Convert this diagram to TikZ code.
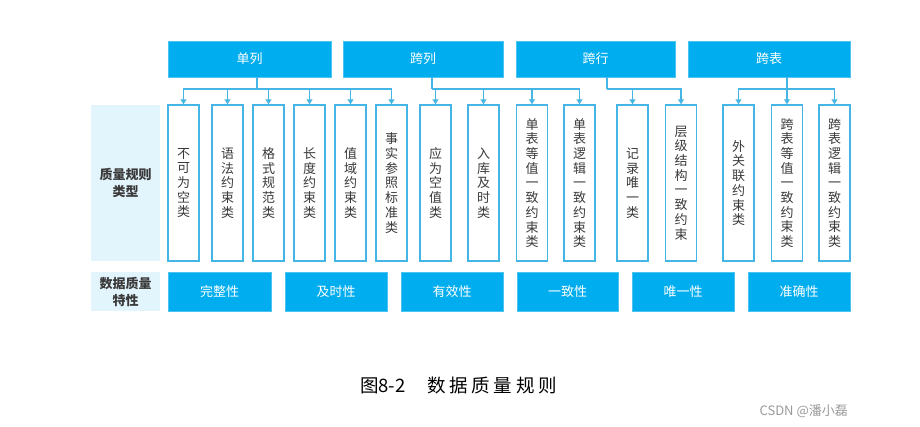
\documentclass[tikz,border=0pt]{standalone}
\usepackage{fontspec}
\setmainfont{Noto Sans CJK SC}
\usetikzlibrary{arrows.meta}
\definecolor{topblue}{HTML}{00ADEF}
\definecolor{topedge}{HTML}{4CC3F1}
\definecolor{lineblue}{HTML}{45B5E5}
\definecolor{txtgray}{HTML}{3A3A3A}
\definecolor{lblfill}{HTML}{E2F4FC}
\definecolor{wmgray}{HTML}{9A9A9A}
\tikzset{
  topbox/.style={draw=topedge, line width=0.8pt, fill=topblue, text=white, inner sep=0pt,
    minimum width=#1, minimum height=36pt, font=\fontsize{13}{15}\selectfont},
  botbox/.style={draw=topedge, line width=0.8pt, fill=topblue, text=white, inner sep=0pt,
    minimum width=#1, minimum height=39pt, font=\fontsize{13}{15}\selectfont},
  vbox/.style={draw=lineblue, line width=1.5pt, fill=white, text=txtgray, inner sep=0pt,
    minimum width=31pt, minimum height=156pt, align=center, font=\fontsize{13}{14.7}\selectfont},
  lbl/.style={fill=lblfill, text=txtgray, inner sep=0pt, minimum width=69pt, align=center,
    font=\fontsize{13}{17}\selectfont\bfseries},
  conn/.style={draw=lineblue, line width=1.2pt},
  arr/.style={conn, -{Triangle[width=6pt,length=5pt]}}
}
\begin{document}
\begin{tikzpicture}[x=1pt,y=-1pt]
\useasboundingbox (0,0) rectangle (920,426);
% top boxes
\node[topbox=163pt] (t1) at (249.5,59) {单列};
\node[topbox=160pt] (t2) at (423,59) {跨列};
\node[topbox=159pt] (t3) at (595.5,59) {跨行};
\node[topbox=162pt] (t4) at (769,59) {跨表};
% labels
\node[lbl, minimum height=156pt] (l1) at (125.5,183) {质量规则\\类型};
\node[lbl, minimum height=39pt] (l2) at (125.5,291.5) {数据质量\\特性};
% vertical boxes
\node[vbox] (v1) at (183.5,183) {不\\可\\为\\空\\类};
\node[vbox] (v2) at (227.5,183) {语\\法\\约\\束\\类};
\node[vbox] (v3) at (268.5,183) {格\\式\\规\\范\\类};
\node[vbox] (v4) at (309.5,183) {长\\度\\约\\束\\类};
\node[vbox] (v5) at (350.5,183) {值\\域\\约\\束\\类};
\node[vbox] (v6) at (391.5,183) {事\\实\\参\\照\\标\\准\\类};
\node[vbox] (v7) at (435.5,183) {应\\为\\空\\值\\类};
\node[vbox] (v8) at (483.5,183) {入\\库\\及\\时\\类};
\node[vbox] (v9) at (532,183) {单\\表\\等\\值\\一\\致\\约\\束\\类};
\node[vbox] (v10) at (579.5,183) {单\\表\\逻\\辑\\一\\致\\约\\束\\类};
\node[vbox] (v11) at (632.5,183) {记\\录\\唯\\一\\类};
\node[vbox] (v12) at (681,183) {层\\级\\结\\构\\一\\致\\约\\束};
\node[vbox] (v13) at (738.5,183) {外\\关\\联\\约\\束\\类};
\node[vbox] (v14) at (787,183) {跨\\表\\等\\值\\一\\致\\约\\束\\类};
\node[vbox] (v15) at (834.5,183) {跨\\表\\逻\\辑\\一\\致\\约\\束\\类};
% bottom boxes
\node[botbox=103pt] (b1) at (219.5,291.5) {完整性};
\node[botbox=102pt] (b2) at (336,291.5) {及时性};
\node[botbox=102pt] (b3) at (452,291.5) {有效性};
\node[botbox=101pt] (b4) at (567.5,291.5) {一致性};
\node[botbox=102pt] (b5) at (683,291.5) {唯一性};
\node[botbox=102pt] (b6) at (799,291.5) {准确性};
% junctions
\coordinate (j1) at (257,89);
\coordinate (j2) at (432,89);
\coordinate (j3) at (607,89);
\coordinate (j4) at (787,89);
\draw[conn] (t1.south -| j1) -- (j1);
\draw[conn] (t2.south -| j2) -- (j2);
\draw[conn] (t3.south -| j3) -- (j3);
\draw[conn] (t4.south -| j4) -- (j4);
\foreach \v in {v1,v2,v3,v4,v5,v6} \draw[arr] (j1) -| (\v.north);
\foreach \v in {v7,v8,v9,v10} \draw[arr] (j2) -| (\v.north);
\foreach \v in {v11,v12} \draw[arr] (j3) -| (\v.north);
\foreach \v in {v13,v14,v15} \draw[arr] (j4) -| (\v.north);
% caption
\node[anchor=west, inner sep=0pt, text=black, font=\fontsize{18.5}{20}\selectfont] (cap) at (360,385)
  {图8-2\hspace{22pt}数\hspace{3.6pt}据\hspace{3.6pt}质\hspace{3.6pt}量\hspace{3.6pt}规\hspace{3.6pt}则};
\node[anchor=east, inner sep=0pt, text=wmgray, font=\fontsize{13}{15}\selectfont] (wm) at (848,411) {CSDN @潘小磊};
\end{tikzpicture}
\end{document}
